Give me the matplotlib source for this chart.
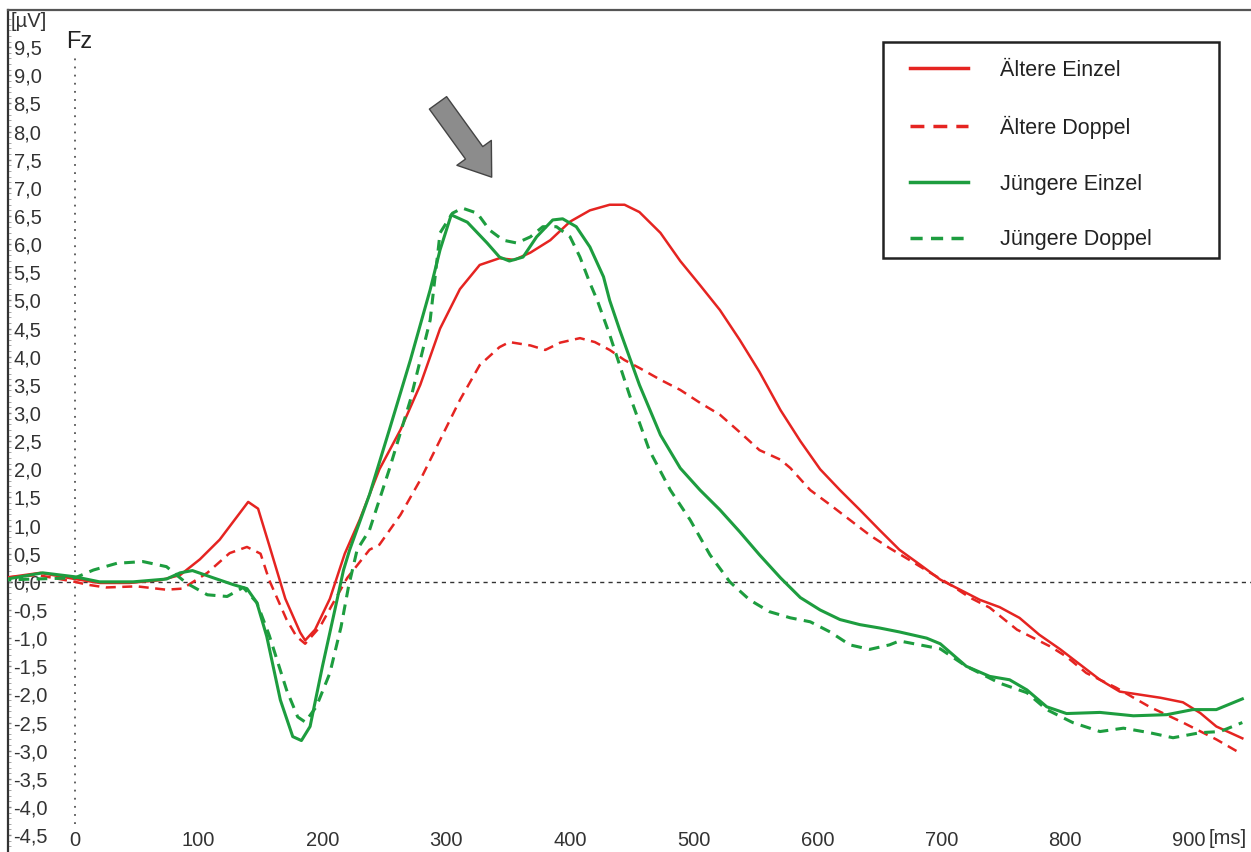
import matplotlib
matplotlib.use("Agg")
import matplotlib.pyplot as plt
from matplotlib.patches import Rectangle

plt.rcParams['font.family'] = ['Liberation Sans', 'DejaVu Sans']

RED = '#e52421'
GREEN = '#1d9d3f'

# Ältere Einzel (red solid)
t_ae = [-54, -28, 0, 20, 44, 69, 85, 101, 117, 129, 140, 148, 157, 170, 182, 186, 194, 206, 218, 230,
        246, 263, 279, 295, 311, 327, 343, 355, 368, 384, 400, 416, 432, 444, 456, 473, 489, 505, 521,
        537, 553, 570, 586, 602, 618, 634, 650, 666, 683, 699, 715, 731, 747, 763, 779, 796, 812, 828,
        844, 877, 895, 909, 922, 943]
v_ae = [0.08, 0.16, 0.05, -0.02, -0.02, 0.03, 0.12, 0.4, 0.75, 1.1, 1.42, 1.3, 0.65, -0.3, -0.9, -1.04,
        -0.85, -0.3, 0.5, 1.1, 2.0, 2.7, 3.5, 4.5, 5.2, 5.63, 5.75, 5.72, 5.85, 6.07, 6.4, 6.6, 6.7,
        6.7, 6.57, 6.2, 5.7, 5.27, 4.83, 4.3, 3.73, 3.05, 2.5, 2.0, 1.63, 1.28, 0.92, 0.57, 0.3, 0.04,
        -0.14, -0.32, -0.45, -0.64, -0.94, -1.2, -1.47, -1.74, -1.95, -2.06, -2.14, -2.33, -2.57, -2.78]

# Ältere Doppel (red dashed)
t_ad = [-54, -30, 0, 10, 25, 50, 74, 87, 107, 125, 139, 150, 157, 171, 179, 186, 198, 207, 220, 238,
        246, 263, 279, 295, 311, 327, 343, 351, 368, 380, 392, 408, 420, 432, 444, 456, 473, 489, 505,
        521, 537, 553, 570, 578, 594, 610, 626, 642, 658, 674, 691, 707, 723, 739, 761, 788, 801, 817,
        841, 868, 895, 922, 941]
v_ad = [0.08, 0.12, 0.0, -0.05, -0.1, -0.08, -0.14, -0.12, 0.16, 0.51, 0.62, 0.5, 0.03, -0.67, -0.97,
        -1.1, -0.8, -0.44, 0.07, 0.57, 0.66, 1.19, 1.81, 2.52, 3.23, 3.85, 4.17, 4.26, 4.2, 4.12, 4.25,
        4.33, 4.26, 4.12, 3.94, 3.8, 3.59, 3.41, 3.18, 2.97, 2.66, 2.34, 2.17, 2.02, 1.63, 1.37, 1.1,
        0.83, 0.6, 0.39, 0.16, -0.05, -0.28, -0.46, -0.85, -1.15, -1.33, -1.62, -1.88, -2.22, -2.5,
        -2.8, -3.04]

# Jüngere Einzel (green solid)
t_je = [-60, -26, 0, 20, 47, 74, 85, 95, 112, 128, 139, 147, 155, 166, 176, 183, 190, 200, 210, 217,
        222, 238, 254, 271, 287, 295, 304, 317, 333, 343, 351, 362, 373, 386, 394, 405, 416, 427, 432,
        440, 456, 473, 489, 505, 521, 537, 553, 570, 586, 602, 618, 634, 650, 666, 688, 699, 720, 739,
        755, 769, 785, 801, 828, 855, 882, 903, 922, 943]
v_je = [0.03, 0.16, 0.09, 0.0, 0.0, 0.05, 0.16, 0.2, 0.07, -0.05, -0.12, -0.37, -0.97, -2.1, -2.75,
        -2.82, -2.57, -1.5, -0.5, 0.21, 0.57, 1.55, 2.7, 3.94, 5.19, 5.9, 6.52, 6.39, 6.02, 5.77, 5.7,
        5.77, 6.13, 6.43, 6.45, 6.31, 5.95, 5.42, 5.0, 4.48, 3.5, 2.61, 2.02, 1.63, 1.28, 0.89, 0.48,
        0.07, -0.28, -0.5, -0.67, -0.76, -0.82, -0.89, -1.0, -1.1, -1.5, -1.68, -1.74, -1.92, -2.22,
        -2.34, -2.32, -2.38, -2.36, -2.27, -2.27, -2.08]

# Jüngere Doppel (green dashed)
t_jd = [-60, -33, 0, 15, 34, 55, 74, 90, 107, 123, 136, 147, 157, 171, 180, 186, 195, 206, 215, 221,
        228, 238, 254, 271, 287, 295, 305, 313, 325, 335, 346, 357, 368, 378, 389, 400, 408, 416, 422,
        432, 448, 464, 481, 497, 513, 529, 545, 561, 578, 594, 610, 626, 642, 658, 666, 699, 720, 747,
        769, 785, 806, 828, 847, 868, 887, 909, 925, 943]
v_jd = [0.03, 0.05, 0.07, 0.21, 0.33, 0.36, 0.27, -0.02, -0.23, -0.26, -0.1, -0.37, -0.95, -1.92, -2.4,
        -2.49, -2.22, -1.62, -0.8, -0.09, 0.57, 0.92, 2.0, 3.23, 4.65, 6.2, 6.55, 6.64, 6.55, 6.25,
        6.07, 6.02, 6.13, 6.31, 6.31, 6.13, 5.77, 5.31, 5.0, 4.39, 3.32, 2.34, 1.63, 1.1, 0.48, 0.0,
        -0.32, -0.53, -0.64, -0.71, -0.89, -1.12, -1.2, -1.12, -1.05, -1.19, -1.5, -1.8, -1.97, -2.27,
        -2.5, -2.66, -2.6, -2.68, -2.77, -2.68, -2.66, -2.5]

y_ticks = [-4.5, -4.0, -3.5, -3.0, -2.5, -2.0, -1.5, -1.0, -0.5, 0.0, 0.5, 1.0, 1.5, 2.0, 2.5, 3.0,
           3.5, 4.0, 4.5, 5.0, 5.5, 6.0, 6.5, 7.0, 7.5, 8.0, 8.5, 9.0, 9.5]
x_ticks = [0, 100, 200, 300, 400, 500, 600, 700, 800, 900]

fig = plt.figure(figsize=(12.51, 8.52), dpi=100)
ax = fig.add_axes([8 / 1251, 0, 1 - 8 / 1251, 1 - 10 / 852])
ax.set_xlim(-54, 950)
ax.set_ylim(-4.8, 10.16)

for s in ['right', 'bottom']:
    ax.spines[s].set_visible(False)
ax.spines['left'].set_color('#333333')
ax.spines['top'].set_color('#555555')
ax.spines['left'].set_linewidth(1.6)
ax.spines['top'].set_linewidth(1.6)

# zero lines
ax.axhline(0, color='#333333', lw=1.0, ls=(0, (3, 3)), zorder=1)
ax.plot([0, 0], [-4.3, 9.35], color='#555555', lw=1.3, ls=(0, (1, 3.5)), zorder=1)

ax.plot(t_ae, v_ae, color=RED, lw=1.8, label='Ältere Einzel', zorder=3)
ax.plot(t_ad, v_ad, color=RED, lw=1.8, ls=(0, (4, 2.6)), label='Ältere Doppel', zorder=3)
ax.plot(t_je, v_je, color=GREEN, lw=2.2, label='Jüngere Einzel', zorder=4)
ax.plot(t_jd, v_jd, color=GREEN, lw=2.2, ls=(0, (3.5, 2.4)), label='Jüngere Doppel', zorder=4)

# y ticks inside
ax.set_yticks(y_ticks)
ax.set_yticklabels([f"{v:.1f}".replace('.', ',') for v in y_ticks])
ax.set_yticks([v / 10 for v in range(-47, 101)], minor=True)
ax.tick_params(axis='y', which='major', direction='in', length=2.5, width=1, color='#888888',
               pad=-4, labelsize=14.5, labelcolor='#333333')
ax.tick_params(axis='y', which='minor', direction='in', length=2.2, width=0.6, color='#999999')
for lab in ax.get_yticklabels():
    lab.set_horizontalalignment('left')
ax.text(-51.5, 9.95, '[µV]', fontsize=14.5, color='#333333', ha='left', va='center')

# x ticks inside
ax.set_xticks(x_ticks)
ax.set_xticklabels([str(v) for v in x_ticks])
ax.tick_params(axis='x', which='both', length=0, pad=-15, labelsize=14.5, labelcolor='#333333')
ax.text(931, -4.56, '[ms]', fontsize=14.5, color='#333333', ha='center', va='center')

ax.text(-7, 9.6, 'Fz', fontsize=17, color='#222222', ha='left', va='center')

# arrow
ax.annotate('', xy=(338, 7.15), xytext=(292, 8.55),
            arrowprops=dict(arrowstyle='simple,head_width=1.7,head_length=1.2,tail_width=0.85',
                            mutation_scale=18, fc='#8c8c8c', ec='#444444', lw=1))

# legend box frame: x 883..1219 px, y 42..258 px
box = Rectangle(((883 - 8) / 1243, 1 - 248 / 842), (1219 - 883) / 1243, 216 / 842,
                transform=ax.transAxes, fill=True, fc='white', ec='#222222', lw=1.8, zorder=5)
ax.add_patch(box)
leg = ax.legend(loc='upper left', bbox_to_anchor=((895 - 8) / 1243, 1 - 35 / 842),
                frameon=False, fontsize=15.5, handlelength=2.7,
                handletextpad=1.5, labelspacing=1.62, borderpad=0.68, borderaxespad=0)
leg.set_zorder(6)
for h in leg.get_lines():
    h.set_linewidth(2.5)
for t in leg.get_texts():
    t.set_color('#222222')

fig.savefig('out.png', dpi=100)
